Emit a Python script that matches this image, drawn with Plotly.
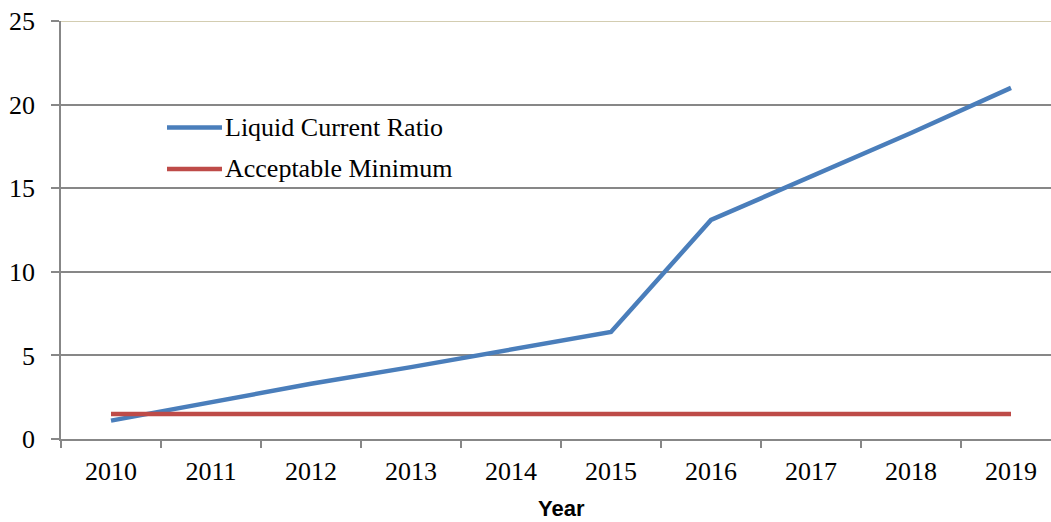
import plotly.graph_objects as go

# Data
years = ["2010", "2011", "2012", "2013", "2014", "2015", "2016", "2017", "2018", "2019"]
liquid_current_ratio = [1.1, 2.2, 3.3, 4.3, 5.35, 6.4, 13.1, 15.7, 18.3, 21.0]
acceptable_minimum = [1.5] * len(years)
y_ticks = [0, 5, 10, 15, 20, 25]

BLUE = "#4A7EBB"
RED = "#BE4B48"
GRID = "#878787"
SERIF = "Liberation Serif, Times New Roman, serif"

W, H = 1051, 522
M_L, M_R, M_T, M_B = 61, 0, 21, 83
PW, PH = W - M_L - M_R, H - M_T - M_B


def px_x(px):
    return (px - M_L) / PW


def px_y(py):
    return (H - M_B - py) / PH


fig = go.Figure()
fig.add_trace(go.Scatter(x=years, y=liquid_current_ratio, mode="lines",
                         name="Liquid Current Ratio",
                         line=dict(color=BLUE, width=4.5)))
fig.add_trace(go.Scatter(x=years, y=acceptable_minimum, mode="lines",
                         name="Acceptable Minimum",
                         line=dict(color=RED, width=4.5)))

# Legend drawn inside the plot area
legend_items = [("Liquid Current Ratio", BLUE, 127.5), ("Acceptable Minimum", RED, 169)]
shapes = []
annotations = []
for label, color, py in legend_items:
    shapes.append(dict(type="line", xref="paper", yref="paper",
                       x0=px_x(167), x1=px_x(222), y0=px_y(py), y1=px_y(py),
                       line=dict(color=color, width=4.5)))
    annotations.append(dict(text=label, xref="paper", yref="paper",
                            x=px_x(223), y=px_y(py), xanchor="left", yanchor="middle",
                            showarrow=False, font=dict(family=SERIF, size=26, color="#000")))

# Top border of the plot area
shapes.append(dict(type="line", xref="paper", yref="y", x0=0, x1=1, y0=25, y1=25,
                   line=dict(color="#C4BD97", width=1.5), layer="above"))

# Axis title
annotations.append(dict(text="<b>Year</b>", xref="paper", yref="paper",
                        x=px_x(561), y=px_y(508), xanchor="center", yanchor="middle",
                        showarrow=False, borderpad=0,
                        font=dict(family="Liberation Sans, Arial, sans-serif", size=22, color="#000")))

fig.update_layout(
    width=W, height=H,
    margin=dict(l=M_L, r=M_R, t=M_T, b=M_B, pad=0),
    paper_bgcolor="white", plot_bgcolor="white",
    showlegend=False,
    shapes=shapes, annotations=annotations,
    xaxis=dict(type="category", range=[-0.5, 9.4], tickson="boundaries",
               showgrid=False, showline=True, linecolor=GRID, linewidth=1.5,
               ticks="outside", ticklen=7, tickcolor=GRID, tickwidth=1.5,
               ticklabelstandoff=8,
               tickfont=dict(family=SERIF, size=26, color="#000"), zeroline=False),
    yaxis=dict(range=[0, 25], tickvals=y_ticks, ticktext=[str(v) for v in y_ticks],
               showgrid=True, gridcolor=GRID, gridwidth=1.5,
               showline=True, linecolor=GRID, linewidth=1.5,
               ticks="outside", ticklen=8, tickcolor=GRID, tickwidth=1.5,
               ticklabelstandoff=11,
               tickfont=dict(family=SERIF, size=26, color="#000"), zeroline=False),
)

fig.write_html("out.html")
